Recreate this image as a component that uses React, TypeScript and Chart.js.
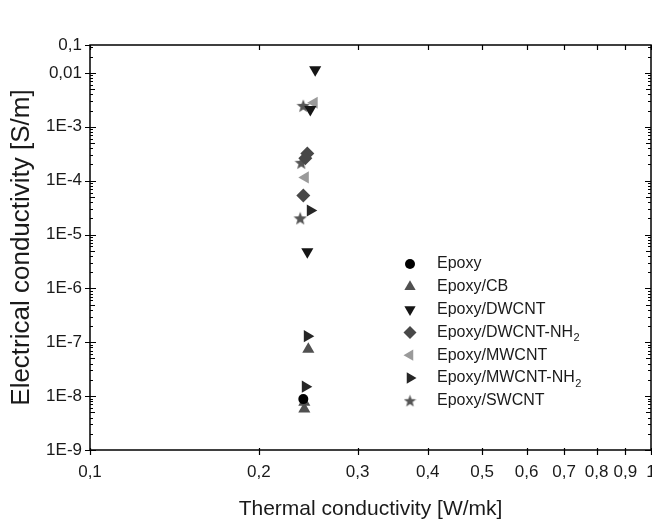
import React, { useEffect, useRef } from 'react';
import { Chart, registerables } from 'chart.js';
import { drawPoint } from 'chart.js/helpers';

Chart.register(...registerables);

// ---------- data ----------
const seriesLabels = [
  'Epoxy',
  'Epoxy/CB',
  'Epoxy/DWCNT',
  'Epoxy/DWCNT-NH2',
  'Epoxy/MWCNT',
  'Epoxy/MWCNT-NH2',
  'Epoxy/SWCNT',
];

const epoxyX = [0.240];
const epoxyY = [8.8e-9];

const cbX = [0.245, 0.241, 0.241];
const cbY = [7.4e-8, 7.7e-9, 5.8e-9];

const dwcntX = [0.252, 0.247, 0.244];
const dwcntY = [1.15e-2, 2.1e-3, 4.8e-6];

const dwcntNh2X = [0.244, 0.242, 0.240];
const dwcntNh2Y = [3.2e-4, 2.6e-4, 5.3e-5];

const mwcntX = [0.251, 0.242];
const mwcntY = [2.8e-3, 1.15e-4];

const mwcntNh2X = [0.247, 0.244, 0.242];
const mwcntNh2Y = [2.8e-5, 1.3e-7, 1.5e-8];

const swcntX = [0.240, 0.238, 0.237];
const swcntY = [2.45e-3, 2.15e-4, 2.0e-5];

const xTickValues = [0.1, 0.2, 0.3, 0.4, 0.5, 0.6, 0.7, 0.8, 0.9, 1];
const xTickLabels = ['0,1', '0,2', '0,3', '0,4', '0,5', '0,6', '0,7', '0,8', '0,9', '1'];

const yTickValues = [1e-9, 1e-8, 1e-7, 1e-6, 1e-5, 1e-4, 1e-3, 1e-2];
const yTickLabels = ['1E-9', '1E-8', '1E-7', '1E-6', '1E-5', '1E-4', '1E-3', '0,01'];
const yAxisMin = 1e-9;
const yAxisMax = 0.033;
const yTopLabel = '0,1';

const FONT = '"Liberation Sans", Arial, Helvetica, sans-serif';

function makeStar(size: number, color: string): HTMLCanvasElement {
  const c = document.createElement('canvas');
  c.width = size;
  c.height = size;
  const ctx = c.getContext('2d')!;
  const cx = size / 2;
  const cy = size / 2 + 0.5;
  const R = size / 2;
  const r = R * 0.42;
  ctx.beginPath();
  for (let i = 0; i < 10; i++) {
    const ang = -Math.PI / 2 + (i * Math.PI) / 5;
    const rad = i % 2 === 0 ? R : r;
    const px = cx + rad * Math.cos(ang);
    const py = cy + rad * Math.sin(ang);
    if (i === 0) ctx.moveTo(px, py);
    else ctx.lineTo(px, py);
  }
  ctx.closePath();
  ctx.fillStyle = color;
  ctx.fill();
  return c;
}

function near(a: number, b: number) {
  return Math.abs(Math.log10(a) - Math.log10(b)) < 1e-6;
}

export default function App() {
  const ref = useRef<HTMLCanvasElement | null>(null);

  useEffect(() => {
    document.body.style.margin = '0';
    const canvas = ref.current;
    if (!canvas) return;

    const starPlot = makeStar(14, '#555555');
    const starLegend = makeStar(13, '#555555');

    const pts = (xs: number[], ys: number[]) => xs.map((x, i) => ({ x, y: ys[i] }));

    const styles = [
      { color: '#000000', pointStyle: 'circle', rotation: 0, radius: 5, lr: 5 },
      { color: '#505050', pointStyle: 'triangle', rotation: 0, radius: 7, lr: 6.5 },
      { color: '#151515', pointStyle: 'triangle', rotation: 180, radius: 7, lr: 6.5 },
      { color: '#484848', pointStyle: 'rectRot', rotation: 0, radius: 7, lr: 6.5 },
      { color: '#9a9a9a', pointStyle: 'triangle', rotation: 270, radius: 7, lr: 6.5 },
      { color: '#262626', pointStyle: 'triangle', rotation: 90, radius: 7, lr: 6.5 },
      { color: '#555555', pointStyle: starPlot as any, rotation: 0, radius: 7, lr: 6 },
    ];

    const dataSets = [
      pts(epoxyX, epoxyY),
      pts(cbX, cbY),
      pts(dwcntX, dwcntY),
      pts(dwcntNh2X, dwcntNh2Y),
      pts(mwcntX, mwcntY),
      pts(mwcntNh2X, mwcntNh2Y),
      pts(swcntX, swcntY),
    ];

    const frameTicks = {
      id: 'frameTicks',
      afterDatasetsDraw(chart: any) {
        const { ctx, chartArea } = chart;
        const { left, right, top, bottom } = chartArea;
        const xs = chart.scales.x;
        const ys = chart.scales.y;
        ctx.save();
        ctx.strokeStyle = '#000';
        ctx.lineWidth = 1.5;
        ctx.strokeRect(left, top, right - left, bottom - top);
        ctx.lineWidth = 1.2;
        ctx.beginPath();
        for (let e = -9; e <= -2; e++) {
          for (let k = 1; k <= 9; k++) {
            const v = k * Math.pow(10, e);
            if (v < yAxisMin * 0.999 || v > yAxisMax * 1.001) continue;
            const py = Math.round(ys.getPixelForValue(v)) + 0.5;
            let inLen = 3;
            let outLen = 0;
            if (k === 1) { inLen = 6; outLen = 5; }
            else if (k === 5) inLen = 5;
            ctx.moveTo(left - outLen, py);
            ctx.lineTo(left + inLen, py);
            ctx.moveTo(right - inLen, py);
            ctx.lineTo(right, py);
          }
        }
        const pTop = Math.round(ys.getPixelForValue(yAxisMax)) + 0.5;
        ctx.moveTo(left - 5, pTop);
        ctx.lineTo(left, pTop);
        xTickValues.forEach((v) => {
          const px = Math.round(xs.getPixelForValue(v)) + 0.5;
          ctx.moveTo(px, bottom + 5);
          ctx.lineTo(px, bottom - 2);
          ctx.moveTo(px, top);
          ctx.lineTo(px, top + 5);
        });
        ctx.stroke();
        ctx.restore();
      },
      afterDraw(chart: any) {
        const { ctx } = chart;
        ctx.save();
        const x0 = 410;
        const y0 = 264;
        const dy = 22.8;
        chart.data.datasets.forEach((ds: any, i: number) => {
          const st = styles[i];
          const yy = y0 + i * dy;
          ctx.fillStyle = st.color;
          ctx.strokeStyle = st.color;
          drawPoint(ctx, {
            pointStyle: i === 6 ? (starLegend as any) : st.pointStyle,
            rotation: st.rotation,
            radius: st.lr,
            borderWidth: 0,
          } as any, x0, yy);
          ctx.fillStyle = '#1a1a1a';
          ctx.font = `16px ${FONT}`;
          ctx.textBaseline = 'middle';
          ctx.textAlign = 'left';
          const label: string = ds.label;
          if (label.endsWith('NH2')) {
            const main = label.slice(0, -1);
            ctx.fillText(main, 437, yy);
            const w = ctx.measureText(main).width;
            ctx.font = `11px ${FONT}`;
            ctx.fillText('2', 437 + w + 0.5, yy + 6);
          } else {
            ctx.fillText(label, 437, yy);
          }
        });
        ctx.restore();
      },
    };

    const chart = new Chart(canvas, {
      type: 'scatter',
      data: {
        datasets: dataSets.map((d, i) => ({
          label: seriesLabels[i],
          data: d,
          backgroundColor: styles[i].color,
          borderColor: styles[i].color,
          borderWidth: 0,
          pointStyle: styles[i].pointStyle,
          rotation: styles[i].rotation,
          pointRadius: styles[i].radius,
          pointHoverRadius: styles[i].radius,
        })) as any,
      },
      options: {
        animation: false,
        responsive: true,
        maintainAspectRatio: false,
        layout: { padding: { top: 45, right: 0, left: 0, bottom: 0 } },
        plugins: {
          legend: { display: false },
          tooltip: { enabled: false },
        },
        scales: {
          x: {
            type: 'logarithmic',
            min: 0.1,
            max: 1,
            grid: { display: false, drawTicks: false },
            border: { display: false },
            afterBuildTicks: (scale: any) => {
              scale.ticks = xTickValues.map((v) => ({ value: v }));
            },
            afterFit: (scale: any) => {
              scale.height = 73;
              scale.paddingLeft = 0;
              scale.paddingRight = 0;
            },
            ticks: {
              autoSkip: false,
              maxRotation: 0,
              padding: 12,
              color: '#1a1a1a',
              font: { family: FONT, size: 17 },
              callback: (value: any) => {
                const idx = xTickValues.findIndex((t) => near(t, Number(value)));
                return idx >= 0 ? xTickLabels[idx] : '';
              },
            },
            title: {
              display: true,
              text: 'Thermal conductivity [W/mk]',
              color: '#1a1a1a',
              font: { family: FONT, size: 21 },
              padding: { top: 0, bottom: 1 },
            },
          },
          y: {
            type: 'logarithmic',
            min: yAxisMin,
            max: yAxisMax,
            grid: { display: false, drawTicks: false },
            border: { display: false },
            afterBuildTicks: (scale: any) => {
              scale.ticks = [...yTickValues, yAxisMax].map((v) => ({ value: v }));
            },
            afterFit: (scale: any) => {
              scale.width = 90;
              scale.paddingTop = 0;
              scale.paddingBottom = 0;
            },
            ticks: {
              autoSkip: false,
              padding: 8,
              color: '#1a1a1a',
              font: { family: FONT, size: 17 },
              callback: (value: any) => {
                const v = Number(value);
                if (near(v, yAxisMax)) return yTopLabel;
                const idx = yTickValues.findIndex((t) => near(t, v));
                return idx >= 0 ? yTickLabels[idx] : '';
              },
            },
            title: {
              display: true,
              text: 'Electrical conductivity [S/m]',
              color: '#1a1a1a',
              font: { family: FONT, size: 26 },
              padding: { top: 6, bottom: 0 },
            },
          },
        },
      },
      plugins: [frameTicks as any],
    });

    return () => chart.destroy();
  }, []);

  return (
    <div style={{ width: 652, height: 523, overflow: 'hidden', background: '#fff' }}>
      <div style={{ width: 658, height: 523, position: 'relative' }}>
        <canvas ref={ref} />
      </div>
    </div>
  );
}
